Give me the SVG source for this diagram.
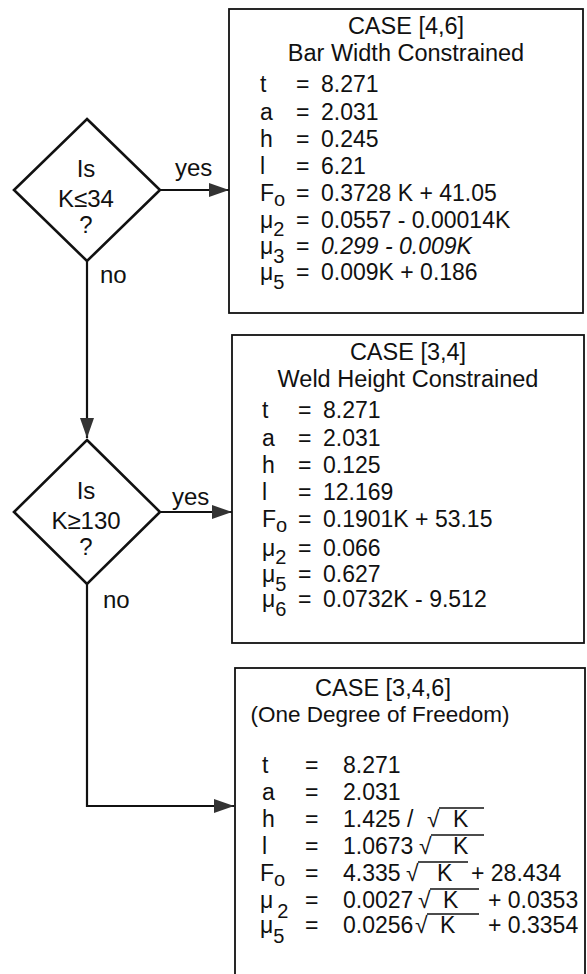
<svg xmlns="http://www.w3.org/2000/svg" width="587" height="974" viewBox="0 0 587 974">
<defs>
<marker id="arr" markerUnits="userSpaceOnUse" markerWidth="20" markerHeight="14" refX="20" refY="7" orient="auto">
<path d="M0,0 L20,7 L0,14 z" fill="#333"/>
</marker>
<style>
text{font-family:"Liberation Sans",Arial,Helvetica,sans-serif;font-size:23px;fill:#111}
.c{text-anchor:middle}
.h{font-size:23.5px}
.h2{font-size:22.5px}
.sub{font-size:20px}
.lb{font-size:24px}
.box{fill:#fff;stroke:#111;stroke-width:1.8}
.dia{fill:#fff;stroke:#111;stroke-width:2.6}
.ln{fill:none;stroke:#111;stroke-width:2.2}
.ov{stroke:#111;stroke-width:1.4}
</style>
</defs>
<rect width="587" height="974" fill="#fff"/>

<g id="connectors">
<path class="ln" d="M160,190 H229" marker-end="url(#arr)"/>
<path class="ln" d="M87,261 V438" marker-end="url(#arr)"/>
<path class="ln" d="M160,512 H232" marker-end="url(#arr)"/>
<path class="ln" d="M87,584 V806 H234" marker-end="url(#arr)"/>
<text class="lb" x="175" y="176">yes</text>
<text class="lb" x="100" y="283">no</text>
<text class="lb" x="172" y="505">yes</text>
<text class="lb" x="103" y="608">no</text>
</g>

<g id="decision1">
<polygon class="dia" points="87,119 160,190 87,261 14,190"/>
<text class="c lb" x="86" y="177">Is</text>
<text class="c lb" x="86" y="207">K≤34</text>
<text class="c lb" x="86" y="233">?</text>
</g>

<g id="decision2">
<polygon class="dia" points="87,440 160,512 87,584 14,512"/>
<text class="c lb" x="86" y="499">Is</text>
<text class="c lb" x="86" y="529">K≥130</text>
<text class="c lb" x="86" y="555">?</text>
</g>

<g id="case46">
<rect class="box" x="229" y="9" width="354" height="304"/>
<text class="c h" x="406" y="34">CASE [4,6]</text>
<text class="c h" x="406" y="61">Bar Width Constrained</text>
<text x="260" y="92">t</text><text x="296" y="92">=</text><text x="321" y="92">8.271</text>
<text x="260" y="120">a</text><text x="296" y="120">=</text><text x="321" y="120">2.031</text>
<text x="260" y="147">h</text><text x="296" y="147">=</text><text x="321" y="147">0.245</text>
<text x="260" y="174">l</text><text x="296" y="174">=</text><text x="321" y="174">6.21</text>
<text x="260" y="201">F<tspan class="sub" dy="5">o</tspan></text><text x="296" y="201">=</text><text x="321" y="201">0.3728 K + 41.05</text>
<text x="260" y="228">μ<tspan class="sub" dy="8">2</tspan></text><text x="296" y="228">=</text><text x="321" y="228">0.0557 - 0.00014K</text>
<text x="260" y="254">μ<tspan class="sub" dy="9">3</tspan></text><text x="296" y="254">=</text><text x="321" y="254" font-style="italic">0.299 - 0.009K</text>
<text x="260" y="280">μ<tspan class="sub" dy="9">5</tspan></text><text x="296" y="280">=</text><text x="321" y="280">0.009K + 0.186</text>
</g>

<g id="case34">
<rect class="box" x="232" y="335" width="352" height="308"/>
<text class="c h" x="408" y="360">CASE [3,4]</text>
<text class="c h" x="408" y="387">Weld Height Constrained</text>
<text x="262" y="418">t</text><text x="298" y="418">=</text><text x="323" y="418">8.271</text>
<text x="262" y="446">a</text><text x="298" y="446">=</text><text x="323" y="446">2.031</text>
<text x="262" y="473">h</text><text x="298" y="473">=</text><text x="323" y="473">0.125</text>
<text x="262" y="500">l</text><text x="298" y="500">=</text><text x="323" y="500">12.169</text>
<text x="262" y="527">F<tspan class="sub" dy="5">o</tspan></text><text x="298" y="527">=</text><text x="323" y="527">0.1901K + 53.15</text>
<text x="262" y="556">μ<tspan class="sub" dy="8">2</tspan></text><text x="298" y="556">=</text><text x="323" y="556">0.066</text>
<text x="262" y="582">μ<tspan class="sub" dy="9">5</tspan></text><text x="298" y="582">=</text><text x="323" y="582">0.627</text>
<text x="262" y="607">μ<tspan class="sub" dy="9">6</tspan></text><text x="298" y="607">=</text><text x="323" y="607">0.0732K - 9.512</text>
</g>

<g id="case346">
<rect class="box" x="235" y="668" width="350" height="330"/>
<text class="c h" x="383" y="696">CASE [3,4,6]</text>
<text class="c h2" x="380" y="722">(One Degree of Freedom)</text>
<text x="262" y="773">t</text><text x="305" y="773">=</text><text x="343" y="773">8.271</text>
<text x="262" y="800">a</text><text x="305" y="800">=</text><text x="343" y="800">2.031</text>
<text x="262" y="827">h</text><text x="305" y="827">=</text><text x="343" y="827">1.425 /</text><text x="427" y="827">√</text><text x="453" y="827">K</text>
<line class="ov" x1="439" y1="808" x2="484" y2="808"/>
<text x="262" y="854">l</text><text x="305" y="854">=</text><text x="343" y="854">1.0673</text><text x="419" y="854">√</text><text x="453" y="854">K</text>
<line class="ov" x1="431" y1="835" x2="484" y2="835"/>
<text x="260" y="881">F<tspan class="sub" dy="5">o</tspan></text><text x="305" y="881">=</text><text x="343" y="881">4.335</text><text x="406" y="881">√</text><text x="437" y="881">K</text><text x="471" y="881">+ 28.434</text>
<line class="ov" x1="418" y1="862" x2="468" y2="862"/>
<text x="260" y="908">μ<tspan class="sub" dx="4" dy="10">2</tspan></text><text x="305" y="908">=</text><text x="343" y="908">0.0027</text><text x="418" y="908">√</text><text x="443" y="908">K</text><text x="488" y="908">+ 0.0353</text>
<line class="ov" x1="430" y1="889" x2="479" y2="889"/>
<text x="260" y="933">μ<tspan class="sub" dy="10">5</tspan></text><text x="305" y="933">=</text><text x="343" y="933">0.0256</text><text x="415" y="933">√</text><text x="440" y="933">K</text><text x="488" y="933">+ 0.3354</text>
<line class="ov" x1="427" y1="914" x2="479" y2="914"/>
</g>
</svg>
